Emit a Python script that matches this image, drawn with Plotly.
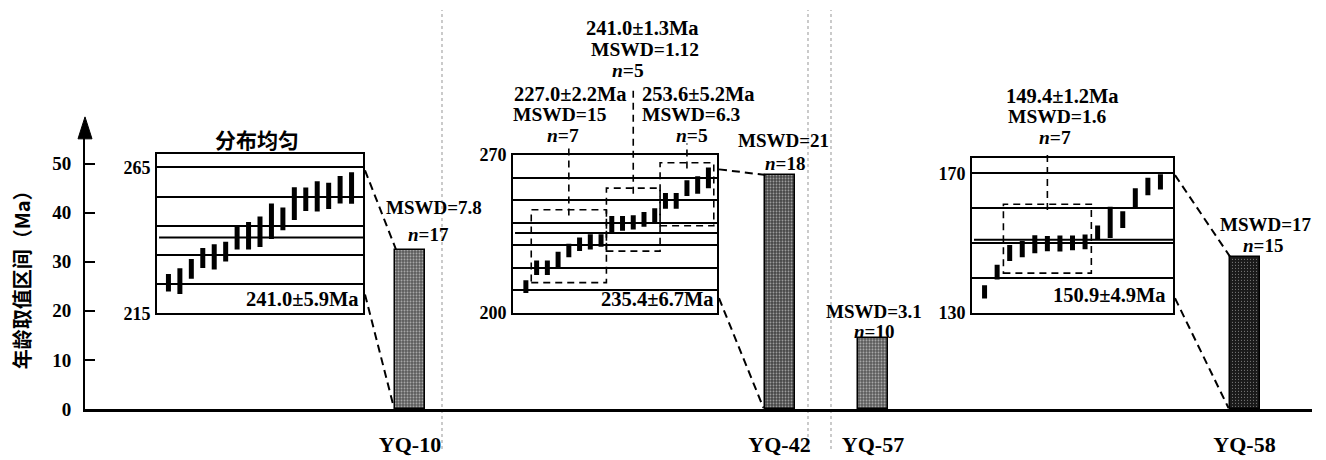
import plotly.graph_objects as go

# ---------------- data ----------------
samples = ["YQ-10", "YQ-42", "YQ-57", "YQ-58"]
age_span = [32.5, 47.7, 14.4, 30.9]          # 年龄取值区间 (Ma)
mswd_text = ["MSWD=7.8", "MSWD=21", "MSWD=3.1", "MSWD=17"]
n_text = ["n=17", "n=18", "n=10", "n=15"]

# YQ-10 individual ages (Ma) and 1-sigma half widths
yq10_age = [225.5, 226.1, 230.3, 234.0, 234.4, 236.2, 241.1, 241.6, 243.0,
            246.6, 247.4, 252.6, 254.1, 255.1, 255.3, 257.4, 258.0]
yq10_err = [3.0, 4.4, 3.4, 3.4, 4.3, 3.4, 4.2, 4.7, 5.2,
            6.1, 3.9, 5.6, 4.0, 5.2, 4.5, 4.7, 5.4]
yq10_mean = 241.0
yq10_mean_text = "241.0±5.9Ma"
yq10_grid = [225, 235, 245, 255, 265]
yq10_ticks = [215, 265]

# YQ-42
yq42_age = [211.5, 219.9, 219.9, 223.5, 227.6, 230.4, 231.4, 232.0, 238.9,
            239.6, 240.1, 241.4, 242.9, 249.6, 249.6, 255.3, 256.7, 259.9]
yq42_err = [2.8, 3.2, 3.2, 3.5, 3.0, 3.0, 3.4, 2.8, 4.0,
            3.3, 3.2, 3.3, 3.5, 3.5, 3.5, 3.5, 3.9, 4.6]
yq42_mean = 235.4
yq42_mean_text = "235.4±6.7Ma"
yq42_grid = [210, 220, 230, 240, 250, 260]
yq42_ticks = [200, 270]
yq42_group_first = [2, 9, 14]
yq42_group_last = [8, 13, 18]
yq42_group_lo = [213.3, 227.3, 238.6]
yq42_group_hi = [245.7, 255.3, 266.6]

# YQ-58
yq58_age = [135.9, 141.6, 147.1, 148.2, 149.6, 149.8, 149.8, 150.0, 150.3,
            152.9, 155.9, 156.7, 162.9, 166.2, 167.5]
yq58_err = [1.9, 2.1, 2.3, 2.3, 2.6, 2.2, 2.3, 2.1, 2.1,
            2.1, 4.5, 2.4, 2.8, 2.5, 2.2]
yq58_mean = 150.9
yq58_mean_text = "150.9±4.9Ma"
yq58_grid = [140, 150, 160, 170]
yq58_ticks = [130, 170]
yq58_group_first = [3]
yq58_group_last = [9]
yq58_group_lo = [141.3]
yq58_group_hi = [161.1]

# ---------------- layout constants ----------------
W, H = 1326, 460
SERIF = "Liberation Serif, Times New Roman, serif"
CJK = "Noto Sans CJK SC"


def PX(x):
    return x / W


def PY(y):
    return 1 - y / H


# main axes (pixel geometry)
AX_X0, AX_X1 = 85, 1312
AX_Y0 = 418            # pixel of value 0
UNIT = 5.14            # px per Ma on main axis
AX_YTOP = 134          # end of axis line (arrow base)
bar_pos = [410, 779.5, 873, 1244.5]
BAR_W = 30

# inset boxes: (left, top, right, bottom) in px, x range, y range bottom, px per Ma
insets = [
    dict(box=(157, 151, 363, 318), xr=(0, 18), y0=215, ppu=3.06),
    dict(box=(513, 152, 717, 317), xr=(-0.2, 18.8), y0=200, ppu=2.357),
    dict(box=(972, 155, 1173, 317), xr=(0, 16), y0=130, ppu=3.65),
]
for s in insets:
    l, t, r, b = s["box"]
    s["yr"] = (s["y0"], s["y0"] + (b - t) / s["ppu"])


def ipx(s, xv):
    l, t, r, b = s["box"]
    return l + (xv - s["xr"][0]) / (s["xr"][1] - s["xr"][0]) * (r - l)


def ipy(s, yv):
    l, t, r, b = s["box"]
    return b - (yv - s["yr"][0]) / (s["yr"][1] - s["yr"][0]) * (b - t)


fig = go.Figure()

# ---- main bars (stippled grey, YQ-58 nearly black) ----
bar_bg = ["#5a5a5a", "#444444", "#5a5a5a", "#1a1a1a"]
bar_fg = ["#2a2a2a", "#1e1e1e", "#2a2a2a", "#9a9a9a"]
fig.add_trace(go.Bar(
    x=bar_pos, y=age_span, width=BAR_W,
    marker=dict(
        color=bar_bg,
        line=dict(color="black", width=1.5),
        pattern=dict(shape=".", fgcolor=bar_fg, size=3,
                     solidity=[0.35, 0.35, 0.35, 0.12], fillmode="overlay"),
    ),
    xaxis="x", yaxis="y", showlegend=False, hoverinfo="skip",
))

# ---- inset error bars ----
series = [(yq10_age, yq10_err), (yq42_age, yq42_err), (yq58_age, yq58_err)]
for i, (ages, errs) in enumerate(series):
    fig.add_trace(go.Scatter(
        x=list(range(1, len(ages) + 1)), y=ages, mode="markers",
        marker=dict(color="rgba(0,0,0,0)", size=1),
        error_y=dict(type="data", array=errs, visible=True, thickness=5,
                     width=0, color="black"),
        xaxis=f"x{i + 2}", yaxis=f"y{i + 2}", showlegend=False, hoverinfo="skip",
    ))

tickfont = dict(family=SERIF, size=19, color="black", weight="bold")

layout = dict(
    width=W, height=H, margin=dict(l=0, r=0, t=0, b=0),
    paper_bgcolor="white", plot_bgcolor="rgba(0,0,0,0)",
    showlegend=False, bargap=0,
    xaxis=dict(domain=[PX(AX_X0), PX(AX_X1)], range=[AX_X0, AX_X1],
               showline=True, linecolor="black", linewidth=2.5, showgrid=False,
               zeroline=False, ticks="", tickvals=bar_pos, ticktext=samples,
               tickfont=dict(family=SERIF, size=22, color="black", weight="bold"),
               ticklabelstandoff=14, anchor="y"),
    yaxis=dict(domain=[PY(AX_Y0), PY(AX_YTOP)], range=[0, (AX_Y0 - AX_YTOP) / UNIT],
               showline=True, linecolor="black", linewidth=2, showgrid=False,
               zeroline=False, ticks="inside", ticklen=10, tickwidth=2,
               tickcolor="black", tickvals=[0, 10, 20, 30, 40, 50],
               tickfont=tickfont, ticklabelstandoff=8, anchor="x"),
)

grids = [yq10_grid, yq42_grid, yq58_grid]
ticks = [yq10_ticks, yq42_ticks, yq58_ticks]
for i, s in enumerate(insets):
    l, t, r, b = s["box"]
    k = i + 2
    tv = sorted(set(grids[i] + ticks[i]))
    tt = [str(v) if v in ticks[i] else "" for v in tv]
    layout[f"xaxis{k}"] = dict(domain=[PX(l), PX(r)], range=list(s["xr"]),
                               showline=True, mirror=True, linecolor="black",
                               linewidth=2, showgrid=False, zeroline=False,
                               showticklabels=False, ticks="", anchor=f"y{k}")
    layout[f"yaxis{k}"] = dict(domain=[PY(b), PY(t)], range=list(s["yr"]),
                               showline=True, mirror=True, linecolor="black",
                               linewidth=2, showgrid=True, gridcolor="black",
                               gridwidth=1.8, zeroline=False, ticks="",
                               tickvals=tv, ticktext=tt, tickfont=dict(
                                   family=SERIF, size=18, color="black", weight="bold"),
                               ticklabelstandoff=1, anchor=f"x{k}")
fig.update_layout(**layout)

shapes = []
# mean lines
means = [yq10_mean, yq42_mean, yq58_mean]
for i, m in enumerate(means):
    k = i + 2
    shapes.append(dict(type="line", xref=f"x{k} domain", yref=f"y{k}", x0=0.01, x1=1,
                       y0=m, y1=m, line=dict(color="black", width=2)))

# dashed group boxes and leaders
DASH = "7px,5px"
groups = [
    (1, yq42_group_first, yq42_group_last, yq42_group_lo, yq42_group_hi, [140, 80, 140]),
    (2, yq58_group_first, yq58_group_last, yq58_group_lo, yq58_group_hi, [147]),
]
for si, firsts, lasts, los, his, tops in groups:
    s = insets[si]
    k = si + 2
    for f, la, lo, hi, top in zip(firsts, lasts, los, his, tops):
        shapes.append(dict(type="rect", xref=f"x{k}", yref=f"y{k}",
                           x0=f - 0.5, x1=la + 0.5, y0=lo, y1=hi,
                           line=dict(color="black", width=1.6, dash=DASH)))
        cx = ipx(s, (f + la) / 2)
        shapes.append(dict(type="line", xref="paper", yref="paper",
                           x0=PX(cx), x1=PX(cx), y0=PY(ipy(s, hi) + 6), y1=PY(top),
                           line=dict(color="black", width=1.6, dash=DASH)))

# connectors from insets to bars
conn = [(0, 0, 168, 298), (1, 1, 167, 302), (2, 3, 173, 302)]
for si, bi, ytop, ybot in conn:
    s = insets[si]
    xr_ = s["box"][2] + 2
    bl = bar_pos[bi] - BAR_W / 2
    btop = AX_Y0 - age_span[bi] * UNIT
    shapes.append(dict(type="line", xref="paper", yref="paper",
                       x0=PX(xr_), y0=PY(ytop), x1=PX(bl + 1), y1=PY(btop),
                       line=dict(color="black", width=2, dash="8px,5px")))
    shapes.append(dict(type="line", xref="paper", yref="paper",
                       x0=PX(xr_), y0=PY(ybot), x1=PX(bl - 1), y1=PY(AX_Y0 - 1),
                       line=dict(color="black", width=2, dash="8px,5px")))

# y axis arrow head
shapes.append(dict(type="path", xref="paper", yref="paper",
                   path=f"M {PX(AX_X0)},{PY(112)} L {PX(AX_X0 - 7)},{PY(AX_YTOP + 1)} "
                        f"L {PX(AX_X0 + 7)},{PY(AX_YTOP + 1)} Z",
                   fillcolor="black", line=dict(color="black", width=1)))

# faint scan streaks of the original
for sx in [442, 808, 831]:
    shapes.append(dict(type="line", xref="paper", yref="paper", x0=PX(sx), x1=PX(sx),
                       y0=0, y1=1, line=dict(color="#a8a8a8", width=1.2, dash="dot"),
                       layer="below"))

fig.update_layout(shapes=shapes)

# ---------------- annotations ----------------
anns = []


def ann(text, x, y, size=19, anchor="center", family=SERIF, angle=0):
    anns.append(dict(text=text, x=PX(x), y=PY(y), xref="paper", yref="paper",
                     xanchor=anchor, yanchor="middle", showarrow=False, textangle=angle,
                     font=dict(family=family, size=size, color="black", weight="bold")))


def italic_n(t):
    return t.replace("n=", "<i>n</i>=")


ann("年龄取值区间（Ma）", 21, 278, size=20, family=CJK, angle=-90)
ann("分布均匀", 257, 135, size=21, family=CJK)
ann(yq10_mean_text, 361, 303, size=20.5, anchor="right")
ann(yq42_mean_text, 716, 303, size=20.5, anchor="right")
ann(yq58_mean_text, 1168, 299, size=20.5, anchor="right")

# bar annotations
mswd_pos = [(434, 207), (783, 137), (874, 316), (1266, 225)]
n_pos = [(428, 235), (785, 161), (874, 337), (1263, 247)]
for t, (x, y) in zip(mswd_text, mswd_pos):
    ann(t, x, y)
for t, (x, y) in zip(n_text, n_pos):
    ann(italic_n(t), x, y)

# group labels YQ-42 / YQ-58
yq42_group_labels = [
    [("227.0±2.2Ma", 570, 88, "center"), ("MSWD=15", 511, 109, "left"), ("n=7", 563, 131, "center")],
    [("241.0±1.3Ma", 642, 19, "center"), ("MSWD=1.12", 645, 41, "center"), ("n=5", 628, 63, "center")],
    [("253.6±5.2Ma", 698, 88, "center"), ("MSWD=6.3", 640, 109, "left"), ("n=5", 692, 131, "center")],
]
yq58_group_labels = [
    [("149.4±1.2Ma", 1062, 90, "center"), ("MSWD=1.6", 1057, 112, "center"), ("n=7", 1055, 134, "center")],
]
for grp in yq42_group_labels + yq58_group_labels:
    for t, x, y, a in grp:
        sz = 20.5 if "±" in t else 19.5
        ann(italic_n(t), x, y, size=sz, anchor=a)

fig.update_layout(annotations=anns)
fig.write_html("out.html")
